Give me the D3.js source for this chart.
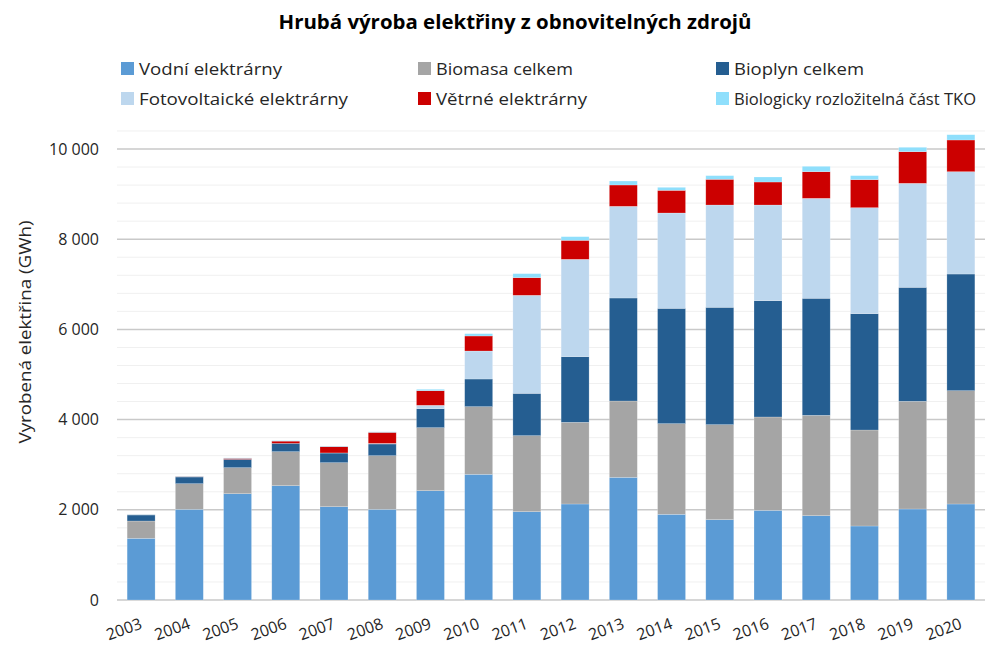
<!DOCTYPE html>
<html lang="cs">
<head>
<meta charset="utf-8">
<title>Hrubá výroba elektřiny z obnovitelných zdrojů</title>
<script src="https://d3js.org/d3.v7.min.js"></script>
<style>
  body { margin: 0; background: #fff; }
  svg text { font-family: "Open Sans", "Noto Sans", sans-serif; fill: #262626; }
  .grid-major line { stroke: #c9c9c9; stroke-width: 1.5; }
  .grid-minor line { stroke: #f0f0f0; stroke-width: 1; }
</style>
</head>
<body>
<div id="chart"></div>
<script>
// data (GWh)
var years = ["2003","2004","2005","2006","2007","2008","2009","2010","2011","2012","2013","2014","2015","2016","2017","2018","2019","2020"];
var vodni    = [1368,2011,2357,2535,2069,2011,2424,2787,1959,2129,2720,1900,1781,1988,1870,1641,2018,2129];
var biomasa  = [383,568,577,754,976,1189,1397,1500,1685,1811,1692,2010,2107,2070,2225,2128,2388,2512];
var bioplyn  = [134,148,185,185,214,259,421,613,938,1455,2284,2557,2602,2579,2595,2580,2527,2587];
var foto     = [0,0,0,0,2,13,75,621,2174,2159,2033,2114,2268,2121,2216,2350,2306,2269];
var vetrne   = [5,10,21,49,139,245,324,333,391,421,473,503,570,510,591,621,701,703];
var tko      = [10,10,11,12,11,12,31,51,89,81,88,66,81,111,119,89,98,117];
var yTicks   = [0,2000,4000,6000,8000,10000];

var seriesNames = ["Vodní elektrárny","Biomasa celkem","Bioplyn celkem","Fotovoltaické elektrárny","Větrné elektrárny","Biologicky rozložitelná část TKO"];
var seriesVals  = [vodni, biomasa, bioplyn, foto, vetrne, tko];
var colors      = ["#5b9bd5","#a5a5a5","#255e91","#bdd7ee","#cc0000","#8fdffc"];

var W = 1006, H = 645;
var plot = {left: 117, right: 985, top: 149, bottom: 600};

var svg = d3.select("#chart").append("svg")
  .attr("width", W).attr("height", H);

// build rows for the stack
var rows = years.map(function(y, i) {
  var r = {year: y};
  seriesNames.forEach(function(s, k) { r[s] = seriesVals[k][i]; });
  return r;
});
var stacked = d3.stack().keys(seriesNames)(rows);

var x = d3.scaleBand().domain(years).range([plot.left, plot.right]).paddingInner(0.42).paddingOuter(0.21);
var y = d3.scaleLinear().domain([0, 10000]).range([plot.bottom, plot.top]);

// minor gridlines every 400
svg.append("g").attr("class", "grid-minor")
  .selectAll("line").data(d3.range(400, 10401, 400).filter(function(v){ return v % 2000 !== 0; }))
  .enter().append("line")
    .attr("x1", plot.left).attr("x2", plot.right)
    .attr("y1", function(d){ return y(d); }).attr("y2", function(d){ return y(d); });

// major gridlines + labels
svg.append("g").attr("class", "grid-major")
  .selectAll("line").data(yTicks)
  .enter().append("line")
    .attr("x1", plot.left).attr("x2", plot.right)
    .attr("y1", function(d){ return y(d); }).attr("y2", function(d){ return y(d); });

svg.append("g").selectAll("text").data(yTicks)
  .enter().append("text")
    .attr("x", 99).attr("y", function(d){ return y(d); })
    .attr("dy", "0.35em")
    .attr("text-anchor", "end")
    .style("font-size", "16px")
    .text(function(d){ return d3.format(",")(d).replace(/,/g, " "); });

// bars
svg.append("g").selectAll("g").data(stacked)
  .enter().append("g")
    .attr("fill", function(d, i){ return colors[i]; })
  .selectAll("rect").data(function(d){ return d; })
  .enter().append("rect")
    .attr("x", function(d){ return x(d.data.year); })
    .attr("width", x.bandwidth())
    .attr("y", function(d){ return y(d[1]); })
    .attr("height", function(d){ return Math.max(0, y(d[0]) - y(d[1])); })
    .attr("stroke", "#ffffff")
    .attr("stroke-opacity", 0.35)
    .attr("stroke-width", 0.6);

// x labels, slanted
svg.append("g").selectAll("text").data(years)
  .enter().append("text")
    .attr("transform", function(d){ return "translate(" + (x(d) + x.bandwidth()/2 + 2) + ",628) rotate(-20)"; })
    .attr("text-anchor", "end")
    .style("font-size", "16px")
    .text(function(d){ return d; });

// y axis title
svg.append("text")
  .attr("transform", "translate(31,332) rotate(-90)")
  .attr("text-anchor", "middle")
  .attr("textLength", 223)
  .attr("lengthAdjust", "spacingAndGlyphs")
  .style("font-size", "17px")
  .text("Vyrobená elektřina (GWh)");

// title
svg.append("text")
  .attr("x", 515).attr("y", 29)
  .attr("text-anchor", "middle")
  .attr("textLength", 473)
  .attr("lengthAdjust", "spacingAndGlyphs")
  .style("font-size", "19px")
  .style("font-weight", "bold")
  .style("fill", "#000")
  .text("Hrubá výroba elektřiny z obnovitelných zdrojů");

// legend: 3 columns, 2 rows
var legX = [121, 418, 716], legY = [69, 99];
var legW = [143, 137, 130, 209, 151, 242];
var leg = svg.append("g").selectAll("g").data(seriesNames)
  .enter().append("g")
    .attr("transform", function(d, i){ return "translate(" + legX[i % 3] + "," + legY[Math.floor(i / 3)] + ")"; });
leg.append("rect")
  .attr("x", 0).attr("y", -7).attr("width", 13).attr("height", 13)
  .attr("fill", function(d, i){ return colors[i]; });
leg.append("text")
  .attr("x", 18).attr("dy", "0.35em")
  .attr("textLength", function(d, i){ return legW[i]; })
  .attr("lengthAdjust", "spacingAndGlyphs")
  .style("font-size", "17px")
  .text(function(d){ return d; });
</script>
</body>
</html>
